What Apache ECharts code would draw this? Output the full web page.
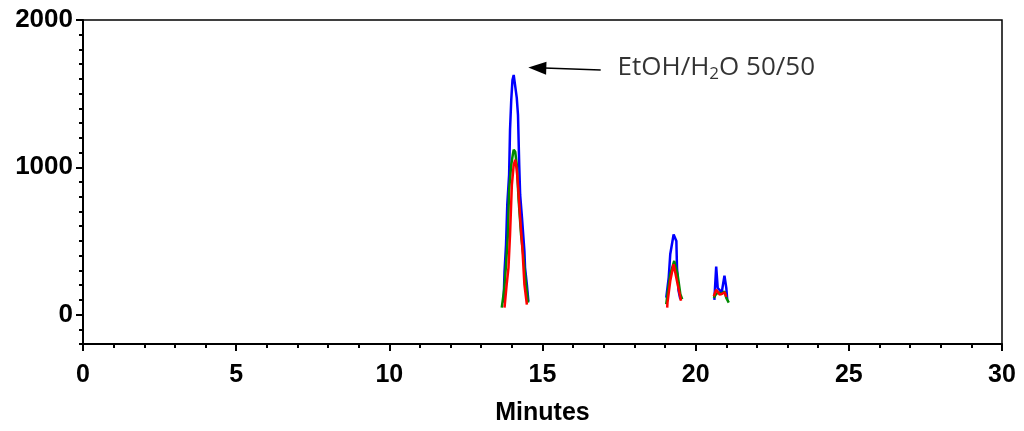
<!DOCTYPE html>
<html>
<head>
<meta charset="utf-8">
<script src="https://cdn.jsdelivr.net/npm/echarts@6/dist/echarts.min.js"></script>
<style>
html,body{margin:0;padding:0;background:#fff;}
#chart{width:1024px;height:431px;}
</style>
</head>
<body>
<div id="chart"></div>
<script>
// Time (minutes) / signal pairs for each trace; '-' breaks the line between peak groups
const blueTrace = [
  [13.73,81],[13.76,292],[13.81,475],[13.85,746],[13.91,949],[13.94,1254],[13.98,1458],[14.02,1593],[14.06,1627],[14.11,1620],[14.16,1471],[14.20,1356],[14.24,1017],[14.27,814],[14.33,658],[14.41,427],[14.43,319],[14.49,203],[14.54,88],
  [14.6,'-'],
  [19.04,115],[19.12,251],[19.17,409],[19.28,544],[19.37,500],[19.39,319],[19.44,163],[19.50,104],
  [20.0,'-'],
  [20.61,100],[20.67,325],[20.72,180],[20.85,150],[20.94,264],[21.0,181],[21.03,102]
];
const greenTrace = [
  [13.67,47],[13.75,170],[13.81,339],[13.87,542],[13.91,847],[13.98,1017],[14.03,1085],[14.06,1119],[14.11,1105],[14.16,1017],[14.22,780],[14.30,542],[14.37,407],[14.43,271],[14.49,156],[14.53,81],
  [14.6,'-'],
  [19.04,70],[19.08,138],[19.17,273],[19.30,364],[19.41,273],[19.50,138],[19.56,104],
  [20.0,'-'],
  [20.59,113],[20.67,140],[20.75,150],[20.85,140],[20.94,158],[21.0,113],[21.08,81]
];
const redTrace = [
  [13.76,47],[13.83,203],[13.89,319],[13.94,542],[14.00,881],[14.06,1017],[14.11,1051],[14.16,983],[14.20,881],[14.27,658],[14.35,427],[14.41,203],[14.49,68],
  [14.6,'-'],
  [19.07,47],[19.08,81],[19.17,228],[19.28,341],[19.39,228],[19.48,138],[19.52,93],
  [20.0,'-'],
  [20.59,124],[20.67,169],[20.72,181],[20.78,136],[20.85,140],[20.95,150],[21.0,120]
];
const yLabelValues = [0, 1000, 2000];
const arrowStart = [16.9, 1661];
const arrowEnd = [14.83, 1675];
const labelAnchor = [17.45, 1675];

const chart = echarts.init(document.getElementById('chart'));
const axisFont = {fontFamily:'Liberation Sans, Arial, sans-serif', fontWeight:'bold', fontSize:25, color:'#000'};
const lineW = 2.5;
chart.setOption({
  animation:false,
  backgroundColor:'#fff',
  grid:{left:83, right:22, top:20, bottom:87, show:true, borderColor:'#000', borderWidth:1.5, containLabel:false},
  xAxis:{
    type:'value', min:0, max:30, interval:5,
    axisLine:{onZero:false, lineStyle:{color:'#000', width:2}},
    axisTick:{length:7, lineStyle:{color:'#000', width:2}},
    minorTick:{show:true, splitNumber:5, length:4, lineStyle:{color:'#000', width:2}},
    splitLine:{show:false},
    axisLabel:Object.assign({margin:19}, axisFont),
    name:'Minutes', nameLocation:'middle', nameGap:57,
    nameTextStyle:{fontFamily:'Liberation Sans, Arial, sans-serif', fontWeight:'bold', fontSize:25, color:'#000'}
  },
  yAxis:[{
    type:'value', min:-200, max:2000, interval:100,
    axisLine:{onZero:false, lineStyle:{color:'#000', width:2}},
    axisTick:{length:7, customValues:yLabelValues, lineStyle:{color:'#000', width:2}},
    splitLine:{show:false},
    axisLabel:Object.assign({}, axisFont, {fontSize:26, margin:10, customValues:yLabelValues, formatter:function(v){return String(v);}})
  },{
    type:'value', min:-200, max:2000, interval:100, position:'left',
    axisLine:{show:false},
    axisTick:{length:4, lineStyle:{color:'#000', width:2}},
    splitLine:{show:false},
    axisLabel:{show:false}
  }],
  series:[
    {type:'line', data:blueTrace, showSymbol:false, symbol:'none', lineStyle:{color:'#0000ff', width:lineW}, itemStyle:{color:'#0000ff'}, connectNulls:false,
     markLine:{silent:true, animation:false, label:{show:false}, lineStyle:{color:'#000', width:1.5, type:'solid'},
       data:[[{coord:arrowStart, symbol:'none'},{coord:arrowEnd, symbol:'triangle', symbolSize:[13,18]}]]}},
    {type:'line', data:greenTrace, showSymbol:false, symbol:'none', lineStyle:{color:'#008a00', width:lineW}, itemStyle:{color:'#008a00'}, connectNulls:false},
    {type:'line', data:redTrace, showSymbol:false, symbol:'none', lineStyle:{color:'#ff0000', width:lineW}, itemStyle:{color:'#ff0000'}, connectNulls:false},
    {type:'scatter', data:[labelAnchor], symbolSize:0, silent:true,
     label:{show:true, position:'right', distance:0,
       formatter:'{n|EtOH/H}{s|2}{n|O 50/50}',
       rich:{
         n:{fontFamily:'Open Sans, Noto Sans, sans-serif', fontSize:26, color:'#000', lineHeight:30},
         s:{fontFamily:'Open Sans, Noto Sans, sans-serif', fontSize:17, color:'#000', lineHeight:30, padding:[12,0,0,0]}
       }}}
  ]
});
</script>
</body>
</html>
